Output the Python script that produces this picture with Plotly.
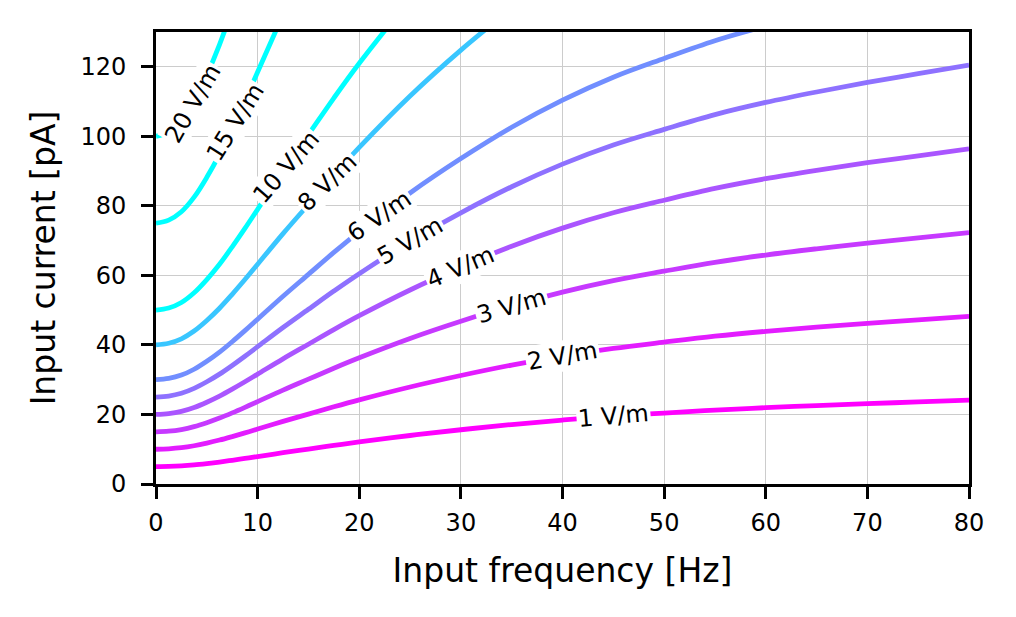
import numpy as np
import plotly.graph_objects as go

# Input frequency samples [Hz]
freq = [0, 1.25, 2.5, 3.75, 5, 6.25, 7.5, 8.75, 10, 12.5, 15, 17.5, 20, 25, 30, 35, 40, 45, 50, 55, 60, 65, 70, 75, 80]

# Input current [pA] along each field-strength contour
current_1 = [5.0, 5.06, 5.22, 5.5, 5.88, 6.32, 6.82, 7.35, 7.9, 9.0, 10.05, 11.1, 12.1, 13.95, 15.6, 17.1, 18.4, 19.5, 20.4, 21.25, 21.95, 22.55, 23.1, 23.6, 24.1]
current_2 = [10.0, 10.12, 10.44, 11.0, 11.76, 12.64, 13.64, 14.7, 15.8, 18.0, 20.1, 22.2, 24.2, 27.9, 31.2, 34.2, 36.8, 39.0, 40.8, 42.5, 43.9, 45.1, 46.2, 47.2, 48.2]
current_3 = [15.0, 15.18, 15.66, 16.5, 17.64, 18.96, 20.46, 22.05, 23.7, 27.0, 30.15, 33.3, 36.3, 41.85, 46.8, 51.3, 55.2, 58.5, 61.2, 63.75, 65.85, 67.65, 69.3, 70.8, 72.3]
current_4 = [20.0, 20.24, 20.88, 22.0, 23.52, 25.28, 27.28, 29.4, 31.6, 36.0, 40.2, 44.4, 48.4, 55.8, 62.4, 68.4, 73.6, 78.0, 81.6, 85.0, 87.8, 90.2, 92.4, 94.4, 96.4]
current_5 = [25.0, 25.3, 26.1, 27.5, 29.4, 31.6, 34.1, 36.75, 39.5, 45.0, 50.25, 55.5, 60.5, 69.75, 78.0, 85.5, 92.0, 97.5, 102.0, 106.25, 109.75, 112.75, 115.5, 118.0, 120.5]
current_6 = [30.0, 30.36, 31.32, 33.0, 35.28, 37.92, 40.92, 44.1, 47.4, 54.0, 60.3, 66.6, 72.6, 83.7, 93.6, 102.6, 110.4, 117.0, 122.4, 127.5, 131.7]
current_8 = [40.0, 40.48, 41.76, 44.0, 47.04, 50.56, 54.56, 58.8, 63.2, 72.0, 80.4, 88.8, 96.8, 111.6, 124.8, 136.8]
current_10 = [50.0, 50.6, 52.2, 55.0, 58.8, 63.2, 68.2, 73.5, 79.0, 90.0, 100.5, 111.0, 121.0, 139.5]
current_15 = [75.0, 75.9, 78.3, 82.5, 88.2, 94.8, 102.3, 110.25, 118.5, 135.0]
current_20 = [100.0, 101.2, 104.4, 110.0, 117.6, 126.4, 136.4]

levels = [1, 2, 3, 4, 5, 6, 8, 10, 15, 20]
level_labels = ["1 V/m", "2 V/m", "3 V/m", "4 V/m", "5 V/m", "6 V/m", "8 V/m", "10 V/m", "15 V/m", "20 V/m"]
curves = [current_1, current_2, current_3, current_4, current_5, current_6,
          current_8, current_10, current_15, current_20]

# label placement (frequency) and rotation (degrees) as seen in the picture
label_freq = [45.0, 40.0, 35.0, 30.0, 25.0, 22.0, 16.9, 12.8, 7.8, 3.6]
label_angle = [5, 10, 16, 23, 30, 34, 44, 49, 58, 60]

x_ticks = [0, 10, 20, 30, 40, 50, 60, 70, 80]
y_ticks = [0, 20, 40, 60, 80, 100, 120]


def cool(level):
    t = min(max((10 - level) / 9.0, 0.0), 1.0)
    return "rgb(%d,%d,255)" % (round(255 * t), round(255 * (1 - t)))


fig = go.Figure()
for lev, cur in zip(levels, curves):
    fig.add_trace(go.Scatter(
        x=freq[:len(cur)], y=cur, mode="lines",
        line=dict(color=cool(lev), width=4.8, shape="spline", smoothing=1.0),
        showlegend=False, hoverinfo="skip"))

for lab, cur, lf, ang in zip(level_labels, curves, label_freq, label_angle):
    yv = float(np.interp(lf, freq[:len(cur)], cur))
    fig.add_annotation(
        x=lf, y=yv, text=lab, showarrow=False, textangle=-ang,
        xanchor="center", yanchor="middle",
        font=dict(family="DejaVu Sans", size=24, color="black"),
        bgcolor="white", borderpad=1)

axis_common = dict(
    showline=True, linecolor="black", linewidth=2.7, mirror=True,
    ticks="outside", ticklen=12, tickwidth=2.5, tickcolor="black",
    showgrid=True, gridcolor="#cccccc", gridwidth=1.2,
    zeroline=False,
    tickfont=dict(family="DejaVu Sans", size=24, color="black"),
)

fig.update_layout(
    width=1008, height=609,
    margin=dict(l=148, r=47, t=24, b=133),
    paper_bgcolor="white", plot_bgcolor="white",
    font=dict(family="DejaVu Sans", color="black"),
    xaxis=dict(range=[0, 80], tickvals=x_ticks, ticklabelstandoff=3,
               title=dict(text="Input frequency [Hz]", standoff=24,
                          font=dict(family="DejaVu Sans", size=33, color="black")),
               **axis_common),
    yaxis=dict(range=[0, 130], tickvals=y_ticks, ticklabelstandoff=10,
               title=dict(text="Input current [pA]", standoff=15,
                          font=dict(family="DejaVu Sans", size=33, color="black")),
               **axis_common),
)

fig.write_html("out.html")
